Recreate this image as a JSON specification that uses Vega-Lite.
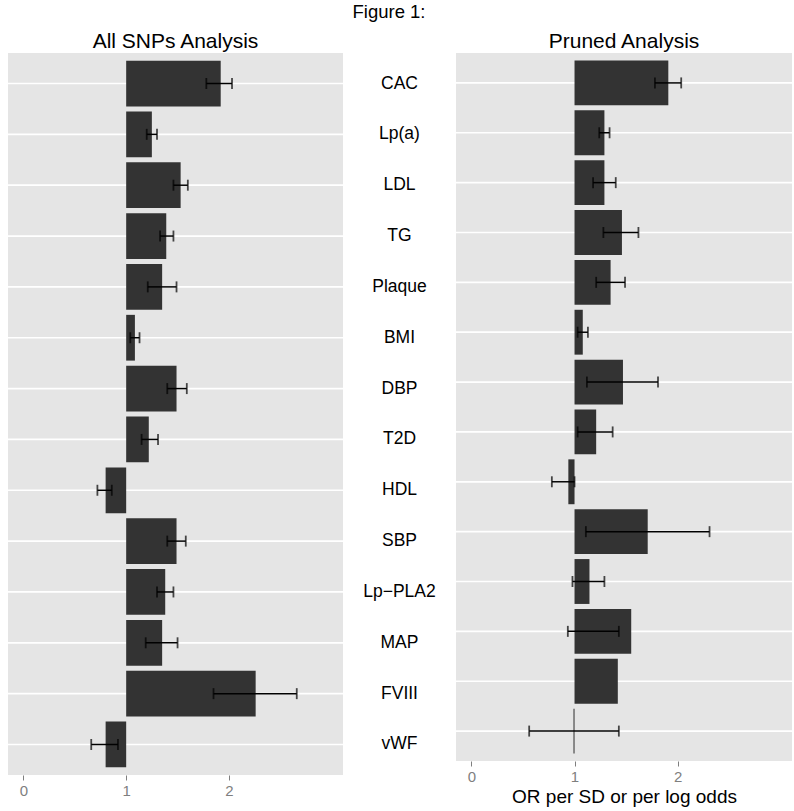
{
  "$schema": "https://vega.github.io/schema/vega-lite/v6.json",
  "background": "white",
  "padding": {"left": 7, "right": 3, "top": 2, "bottom": 5},
  "title": {"text": "Figure 1:", "fontSize": 18.5, "fontWeight": "normal", "color": "black", "anchor": "middle", "dx": -11, "offset": 10},
  "spacing": 0,
  "bounds": "flush",
  "datasets": {
    "all": [
      {"trait": "CAC", "or": 1.92, "lo": 1.78, "hi": 2.03},
      {"trait": "Lp(a)", "or": 1.25, "lo": 1.2, "hi": 1.3},
      {"trait": "LDL", "or": 1.53, "lo": 1.46, "hi": 1.6},
      {"trait": "TG", "or": 1.39, "lo": 1.33, "hi": 1.46},
      {"trait": "Plaque", "or": 1.35, "lo": 1.21, "hi": 1.49},
      {"trait": "BMI", "or": 1.085, "lo": 1.04, "hi": 1.13},
      {"trait": "DBP", "or": 1.49, "lo": 1.4, "hi": 1.59},
      {"trait": "T2D", "or": 1.22, "lo": 1.15, "hi": 1.31},
      {"trait": "HDL", "or": 0.8, "lo": 0.72, "hi": 0.86},
      {"trait": "SBP", "or": 1.49, "lo": 1.4, "hi": 1.58},
      {"trait": "Lp−PLA2", "or": 1.38, "lo": 1.3, "hi": 1.46},
      {"trait": "MAP", "or": 1.35, "lo": 1.19, "hi": 1.5},
      {"trait": "FVIII", "or": 2.26, "lo": 1.85, "hi": 2.66},
      {"trait": "vWF", "or": 0.8, "lo": 0.66, "hi": 0.92}
    ],
    "pruned": [
      {"trait": "CAC", "or": 1.91, "lo": 1.78, "hi": 2.035},
      {"trait": "Lp(a)", "or": 1.29, "lo": 1.24, "hi": 1.34},
      {"trait": "LDL", "or": 1.29, "lo": 1.18, "hi": 1.4},
      {"trait": "TG", "or": 1.46, "lo": 1.28, "hi": 1.62},
      {"trait": "Plaque", "or": 1.35, "lo": 1.21, "hi": 1.49},
      {"trait": "BMI", "or": 1.08, "lo": 1.03, "hi": 1.13},
      {"trait": "DBP", "or": 1.47, "lo": 1.12, "hi": 1.81},
      {"trait": "T2D", "or": 1.21, "lo": 1.03, "hi": 1.37},
      {"trait": "HDL", "or": 0.94, "lo": 0.78, "hi": 1.0},
      {"trait": "SBP", "or": 1.71, "lo": 1.11, "hi": 2.31},
      {"trait": "Lp−PLA2", "or": 1.145, "lo": 0.98, "hi": 1.29},
      {"trait": "MAP", "or": 1.55, "lo": 0.935, "hi": 1.43},
      {"trait": "FVIII", "or": 1.42, "lo": null, "hi": null},
      {"trait": "vWF", "or": 0.99, "lo": 0.56, "hi": 1.43}
    ]
  },
  "hconcat": [
    {
      "width": 335,
      "height": 722,
      "title": {"text": "All SNPs Analysis", "fontSize": 21, "fontWeight": "normal", "color": "black", "offset": 1},
      "data": {"name": "all"},
      "view": {"fill": "#e5e5e5", "stroke": null},
      "encoding": {
        "y": {
          "field": "trait", "type": "nominal",
          "sort": ["CAC", "Lp(a)", "LDL", "TG", "Plaque", "BMI", "DBP", "T2D", "HDL", "SBP", "Lp−PLA2", "MAP", "FVIII", "vWF"],
          "scale": {"type": "band", "paddingInner": 0.1, "paddingOuter": 0.15},
          "axis": null
        }
      },
      "layer": [
        {
          "mark": {"type": "rule", "color": "white", "strokeWidth": 1.7},
          "encoding": {"x": {"datum": -0.15}, "x2": {"datum": 3.11}}
        },
        {
          "mark": {"type": "bar", "color": "#333333"},
          "encoding": {
            "x": {
              "field": "or", "type": "quantitative",
              "scale": {"domain": [-0.15, 3.11], "nice": false, "zero": false},
              "axis": {
                "title": null,
                "format": "d",
                "values": [0, 0.5, 1, 1.5, 2, 2.5, 3],
                "labelExpr": "(datum.value == 0 || datum.value == 1 || datum.value == 2) ? datum.label : ''",
                "gridColor": {"condition": {"test": "datum.value == 0 || datum.value == 1 || datum.value == 2", "value": "white"}, "value": "#f2f2f2"},
                "gridWidth": {"condition": {"test": "datum.value == 0 || datum.value == 1 || datum.value == 2", "value": 1.7}, "value": 1},
                "tickOpacity": {"condition": {"test": "datum.value == 0 || datum.value == 1 || datum.value == 2", "value": 1}, "value": 0},
                "tickColor": "#7f7f7f", "tickSize": 5, "tickWidth": 1,
                "labelColor": "#7f7f7f", "labelFontSize": 15, "labelPadding": 3, "labelFlush": false,
                "domain": false
              }
            },
            "x2": {"datum": 1}
          }
        },
        {
          "mark": {"type": "rule", "color": "black", "strokeWidth": 1.5},
          "encoding": {"x": {"field": "lo", "type": "quantitative"}, "x2": {"field": "hi"}}
        },
        {
          "mark": {"type": "tick", "color": "black", "thickness": 1.8, "size": 11, "orient": "vertical"},
          "encoding": {"x": {"field": "lo", "type": "quantitative"}}
        },
        {
          "mark": {"type": "tick", "color": "black", "thickness": 1.8, "size": 11, "orient": "vertical"},
          "encoding": {"x": {"field": "hi", "type": "quantitative"}}
        }
      ]
    },
    {
      "width": 113,
      "height": 722,
      "data": {"name": "all"},
      "view": {"fill": null, "stroke": null},
      "mark": {"type": "text", "fontSize": 17.5, "color": "black", "baseline": "middle", "align": "center"},
      "encoding": {
        "y": {
          "field": "trait", "type": "nominal",
          "sort": ["CAC", "Lp(a)", "LDL", "TG", "Plaque", "BMI", "DBP", "T2D", "HDL", "SBP", "Lp−PLA2", "MAP", "FVIII", "vWF"],
          "scale": {"type": "band", "paddingInner": 0.1, "paddingOuter": 0.15},
          "axis": null
        },
        "text": {"field": "trait"}
      }
    },
    {
      "width": 336,
      "height": 708,
      "title": {"text": "Pruned Analysis", "fontSize": 21, "fontWeight": "normal", "color": "black", "offset": 1},
      "data": {"name": "pruned"},
      "view": {"fill": "#e5e5e5", "stroke": null},
      "encoding": {
        "y": {
          "field": "trait", "type": "nominal",
          "sort": ["CAC", "Lp(a)", "LDL", "TG", "Plaque", "BMI", "DBP", "T2D", "HDL", "SBP", "Lp−PLA2", "MAP", "FVIII", "vWF"],
          "scale": {"type": "band", "paddingInner": 0.1, "paddingOuter": 0.15},
          "axis": null
        }
      },
      "layer": [
        {
          "mark": {"type": "rule", "color": "white", "strokeWidth": 1.7},
          "encoding": {"x": {"datum": -0.15}, "x2": {"datum": 3.11}}
        },
        {
          "mark": {"type": "bar", "color": "#333333"},
          "encoding": {
            "x": {
              "field": "or", "type": "quantitative",
              "scale": {"domain": [-0.15, 3.11], "nice": false, "zero": false},
              "axis": {
                "title": "OR per SD or per log odds",
                "titleFontSize": 19, "titleFontWeight": "normal", "titleColor": "black", "titlePadding": 3,
                "format": "d",
                "values": [0, 0.5, 1, 1.5, 2, 2.5, 3],
                "labelExpr": "(datum.value == 0 || datum.value == 1 || datum.value == 2) ? datum.label : ''",
                "gridColor": {"condition": {"test": "datum.value == 0 || datum.value == 1 || datum.value == 2", "value": "white"}, "value": "#f2f2f2"},
                "gridWidth": {"condition": {"test": "datum.value == 0 || datum.value == 1 || datum.value == 2", "value": 1.7}, "value": 1},
                "tickOpacity": {"condition": {"test": "datum.value == 0 || datum.value == 1 || datum.value == 2", "value": 1}, "value": 0},
                "tickColor": "#7f7f7f", "tickSize": 5, "tickWidth": 1,
                "labelColor": "#7f7f7f", "labelFontSize": 15, "labelPadding": 3, "labelFlush": false,
                "domain": false
              }
            },
            "x2": {"datum": 1}
          }
        },
        {
          "mark": {"type": "rule", "color": "black", "strokeWidth": 1.5},
          "encoding": {"x": {"field": "lo", "type": "quantitative"}, "x2": {"field": "hi"}}
        },
        {
          "mark": {"type": "tick", "color": "black", "thickness": 1.8, "size": 11, "orient": "vertical"},
          "encoding": {"x": {"field": "lo", "type": "quantitative"}}
        },
        {
          "mark": {"type": "tick", "color": "black", "thickness": 1.8, "size": 11, "orient": "vertical"},
          "encoding": {"x": {"field": "hi", "type": "quantitative"}}
        }
      ]
    }
  ],
  "config": {
    "font": "Liberation Sans",
    "view": {"stroke": null}
  }
}
